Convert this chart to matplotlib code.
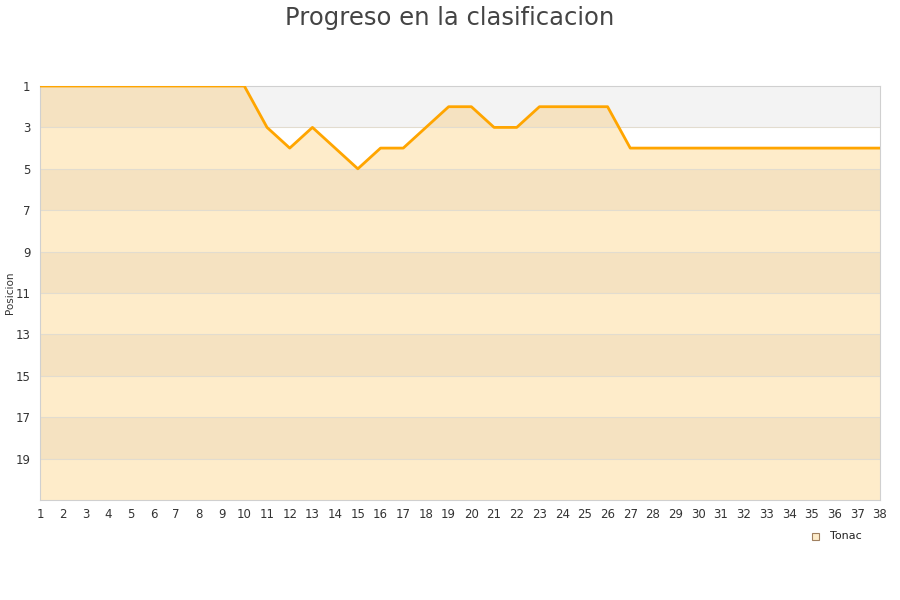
import matplotlib
matplotlib.use("Agg")
import matplotlib.pyplot as plt
from matplotlib.patches import Rectangle

# Posicion por jornada
jornadas = list(range(1, 39))
posiciones = [1, 1, 1, 1, 1, 1, 1, 1, 1, 1,
              3, 4, 3, 4, 5, 4, 4, 3, 2, 2,
              3, 3, 2, 2, 2, 2, 4, 4, 4, 4,
              4, 4, 4, 4, 4, 4, 4, 4]
y_ticks = list(range(1, 20, 2))
equipo = "Tonac"

fig = plt.figure(figsize=(9, 6), dpi=100)
ax = fig.add_axes([40 / 900, 100 / 600, 840 / 900, 414 / 600])
ax.set_xlim(1, 38)
ax.set_ylim(21, 1)

# background bands above the line (gray / white)
for i, y0 in enumerate(range(1, 21, 2)):
    ax.add_patch(Rectangle((1, y0), 37, 2, facecolor="#f3f3f3" if i % 2 == 0 else "white",
                           edgecolor="none", zorder=0))

# area under the line, with beige bands clipped to it
area = ax.fill_between(jornadas, posiciones, 21, facecolor="none", edgecolor="none", zorder=1)
clip = area.get_paths()[0]
for i, y0 in enumerate(range(1, 21, 2)):
    band = Rectangle((1, y0), 37, 2, facecolor="#f5e2c1" if i % 2 == 0 else "#feecca",
                     edgecolor="none", zorder=1)
    ax.add_patch(band)
    band.set_clip_path(clip, ax.transData)

for y in range(3, 21, 2):
    ax.axhline(y, color="#e2dccf", linewidth=0.8, zorder=2)

ax.plot(jornadas, posiciones, color="#ffa500", linewidth=2, zorder=3)

ax.set_xticks(jornadas)
ax.set_yticks(y_ticks)
ax.tick_params(axis="both", length=0, labelsize=8.5, labelcolor="#333333")
ax.tick_params(axis="x", pad=6)
ax.tick_params(axis="y", pad=7)
for s in ax.spines.values():
    s.set_color("#d0d0d0")
    s.set_linewidth(0.8)

fig.text(10 / 900, 1 - 293 / 600, "Posicion", fontsize=7.5, color="#333333",
         rotation=90, ha="center", va="center")
fig.suptitle("Progreso en la clasificacion", fontsize=17.5, color="#444444", y=0.99)

# legend
fig.patches.append(Rectangle((812 / 900, 1 - 540 / 600), 7 / 900, 7 / 600,
                             facecolor="#feecca", edgecolor="#a08060", linewidth=0.8,
                             transform=fig.transFigure, figure=fig))
fig.text(830 / 900, 1 - 536 / 600, equipo, fontsize=8, color="#222222", va="center")

fig.savefig("out.png", dpi=100)
